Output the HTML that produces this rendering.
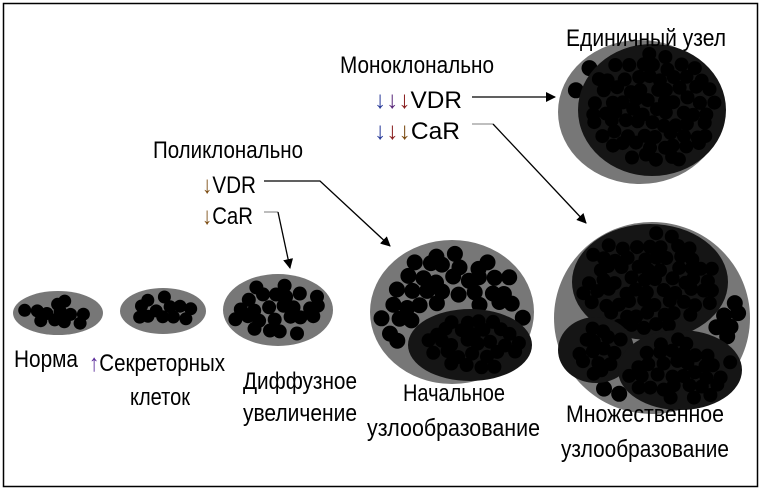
<!DOCTYPE html>
<html><head><meta charset="utf-8"><style>
body{margin:0;background:#fff;}
svg{display:block}
text{font-family:"Liberation Sans",sans-serif;font-size:24px;fill:#000}
</style></head><body>
<svg id="s" width="762" height="491" viewBox="0 0 762 491" xmlns="http://www.w3.org/2000/svg">
<defs>
<marker id="a" markerWidth="10" markerHeight="10" refX="9" refY="5" orient="auto" markerUnits="userSpaceOnUse"><path d="M0,0 L10,5 L0,10 z" fill="#000"/></marker>
</defs>
<rect x="3.5" y="3.5" width="754" height="483" fill="none" stroke="#000" stroke-width="1.5"/>
<g id="shapes">
<ellipse cx="58" cy="313" rx="45" ry="22" fill="#777"/>
<ellipse cx="163" cy="311" rx="43" ry="23" fill="#777"/>
<ellipse cx="278" cy="310" rx="55" ry="36" fill="#777"/>
<ellipse cx="452" cy="312" rx="82" ry="72" fill="#777"/>
<ellipse cx="640" cy="112" rx="82" ry="72" fill="#777"/>
<ellipse cx="652" cy="318" rx="98" ry="96" fill="#777"/>
</g>
<g id="dots" fill="#000"></g>
<g id="inner"></g>
<text x="340" y="73" textLength="154" lengthAdjust="spacingAndGlyphs">Моноклонально</text>
<text x="374" y="108" textLength="88" lengthAdjust="spacingAndGlyphs"><tspan fill="#2a3c9a">↓</tspan><tspan fill="#5a2a7a">↓</tspan><tspan fill="#8a2020">↓</tspan>VDR</text>
<text x="374" y="139" textLength="86" lengthAdjust="spacingAndGlyphs"><tspan fill="#2a3c9a">↓</tspan><tspan fill="#8a2020">↓</tspan><tspan fill="#7a4a10">↓</tspan>CaR</text>
<text x="153" y="158" textLength="150" lengthAdjust="spacingAndGlyphs">Поликлонально</text>
<text x="202" y="193" textLength="54" lengthAdjust="spacingAndGlyphs"><tspan fill="#7a4a10">↓</tspan>VDR</text>
<text x="202" y="224" textLength="51" lengthAdjust="spacingAndGlyphs"><tspan fill="#7a4a10">↓</tspan>CaR</text>
<text x="566" y="46" textLength="160" lengthAdjust="spacingAndGlyphs">Единичный узел</text>
<text x="14" y="367" textLength="64" lengthAdjust="spacingAndGlyphs">Норма</text>
<text x="89" y="371" textLength="136" lengthAdjust="spacingAndGlyphs"><tspan fill="#5a2a9a">↑</tspan>Секреторных</text>
<text x="130" y="405" textLength="60" lengthAdjust="spacingAndGlyphs">клеток</text>
<text x="243" y="389" textLength="114" lengthAdjust="spacingAndGlyphs">Диффузное</text>
<text x="243" y="421" textLength="114" lengthAdjust="spacingAndGlyphs">увеличение</text>
<text x="403" y="401" textLength="102" lengthAdjust="spacingAndGlyphs">Начальное</text>
<text x="367" y="436" textLength="173" lengthAdjust="spacingAndGlyphs">узлообразование</text>
<text x="566" y="422" textLength="158" lengthAdjust="spacingAndGlyphs">Множественное</text>
<text x="561" y="457" textLength="168" lengthAdjust="spacingAndGlyphs">узлообразование</text>
<g fill="none" stroke-width="1.3">
<path d="M472,97 L555,97" stroke="#000" marker-end="url(#a)"/>
<path d="M472,124 L493,124" stroke="#999"/>
<path d="M493,124 L586,223" stroke="#000" marker-end="url(#a)"/>
<path d="M264,181 L320,181 L390,246" stroke="#000" marker-end="url(#a)"/>
<path d="M264,212 L278,212" stroke="#999"/>
<path d="M278,212 L290,268" stroke="#000" marker-end="url(#a)"/>
</g>
</svg>
<script>
var NS='http://www.w3.org/2000/svg';
var g=document.getElementById('dots'),gi=document.getElementById('inner');
var seed=7;function r(){seed=(seed*9301+49297)%233280;return seed/233280;}
function circ(par,x,y,rad,col){var c=document.createElementNS(NS,'circle');c.setAttribute('cx',x.toFixed(1));c.setAttribute('cy',y.toFixed(1));c.setAttribute('r',rad);c.setAttribute('fill',col);par.appendChild(c);}
function ell(par,cx,cy,rx,ry,col){var e=document.createElementNS(NS,'ellipse');e.setAttribute('cx',cx);e.setAttribute('cy',cy);e.setAttribute('rx',rx);e.setAttribute('ry',ry);e.setAttribute('fill',col);par.appendChild(e);}
function fill(par,cx,cy,rx,ry,rad,sp,col,skip){
 var row=0;
 for(var y=cy-ry;y<=cy+ry;y+=sp*0.87,row++){
  for(var x=cx-rx+(row%2?sp/2:0);x<=cx+rx;x+=sp){
   var jx=x+(r()-0.5)*sp*0.5,jy=y+(r()-0.5)*sp*0.5;
   if(Math.pow((jx-cx)/(rx-rad-2),2)+Math.pow((jy-cy)/(ry-rad-2),2)>1)continue;
   if(skip&&skip(jx,jy))continue;
   circ(par,jx,jy,rad,col);
  }
 }
}
function inE(cx,cy,rx,ry,m){return function(x,y){return Math.pow((x-cx)/(rx+m),2)+Math.pow((y-cy)/(ry+m),2)<1;};}
fill(g,58,313,45,22,6.5,12,'#000');
fill(g,163,311,43,23,6.5,12,'#000');
fill(g,278,310,55,36,7,13,'#000');
fill(g,452,312,82,72,8,15,'#000',inE(470,345,62,36,4));
ell(gi,470,345,62,36,'#151515');fill(gi,470,345,62,36,7,13,'#000');
ell(gi,652,110,74,66,'#151515');fill(gi,652,110,74,66,7,13,'#000');
fill(g,640,112,82,72,8,15,'#000',inE(652,110,74,66,4));
var s1=inE(650,282,78,58,4),s2=inE(596,350,38,33,4),s3=inE(680,370,62,40,4);
fill(g,652,318,98,96,8,15,'#000',function(x,y){return s1(x,y)||s2(x,y)||s3(x,y);});
ell(gi,650,282,78,58,'#151515');fill(gi,650,282,78,58,7,13,'#000');
ell(gi,596,350,38,33,'#151515');fill(gi,596,350,38,33,7,13,'#000');
ell(gi,680,370,62,40,'#151515');fill(gi,680,370,62,40,7,13,'#000');
</script>
</body></html>
